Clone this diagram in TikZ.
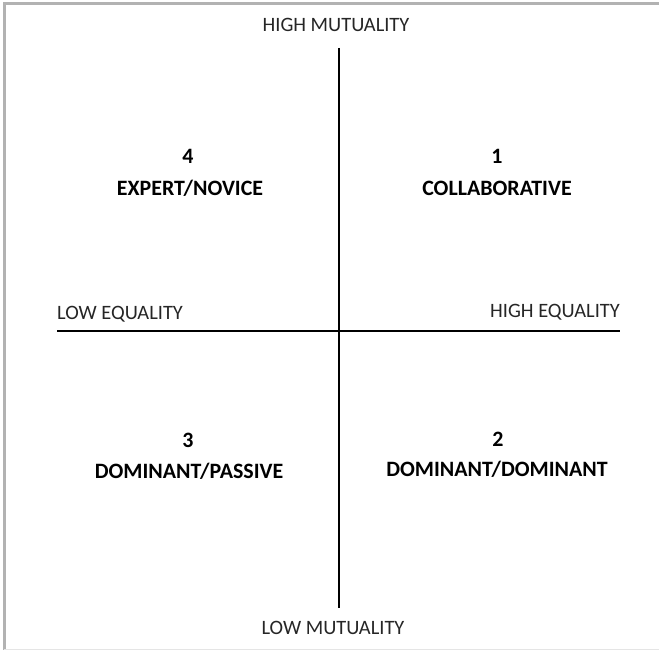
\documentclass[tikz,border=0pt]{standalone}
\usepackage{fontspec}
\setmainfont{Carlito}
\begin{document}
\begin{tikzpicture}[x=1bp,y=-1bp,
  axis/.style={line width=2bp,black},
  axislabel/.style={font=\fontsize{20.5}{24}\selectfont,text=black!85,inner sep=0pt},
  quadlabel/.style={font=\bfseries\fontsize{22}{26}\selectfont,inner sep=0pt}]
\useasboundingbox (0,0) rectangle (659,650);
% frame edges
\draw[line width=3bp,black!30] (4,650) -- (4,4) -- (659,4);
\draw[line width=1bp,black!10] (4,649.5) -- (659,649.5);
% axes
\coordinate (top) at (339,48);
\coordinate (bottom) at (339,608);
\coordinate (left) at (57,331);
\coordinate (right) at (620,331);
\draw[axis] (top) -- (bottom);
\draw[axis] (left) -- (right);
% axis labels
\node[axislabel] (hm) at (336,25) {HIGH MUTUALITY};
\node[axislabel] (lm) at (333,628) {LOW MUTUALITY};
\node[axislabel,anchor=west] (le) at (57,314) {LOW EQUALITY};
\node[axislabel,anchor=east] (he) at (620,312) {HIGH EQUALITY};
% quadrant numbers and names
\node[quadlabel] (n4) at (188,156) {4};
\node[quadlabel] (q4) at (190,188) {EXPERT/NOVICE};
\node[quadlabel] (n1) at (497,156) {1};
\node[quadlabel] (q1) at (497,188) {COLLABORATIVE};
\node[quadlabel] (n3) at (188,440) {3};
\node[quadlabel] (q3) at (189,471) {DOMINANT/PASSIVE};
\node[quadlabel] (n2) at (498,439) {2};
\node[quadlabel] (q2) at (497,469) {DOMINANT/DOMINANT};
\end{tikzpicture}
\end{document}
